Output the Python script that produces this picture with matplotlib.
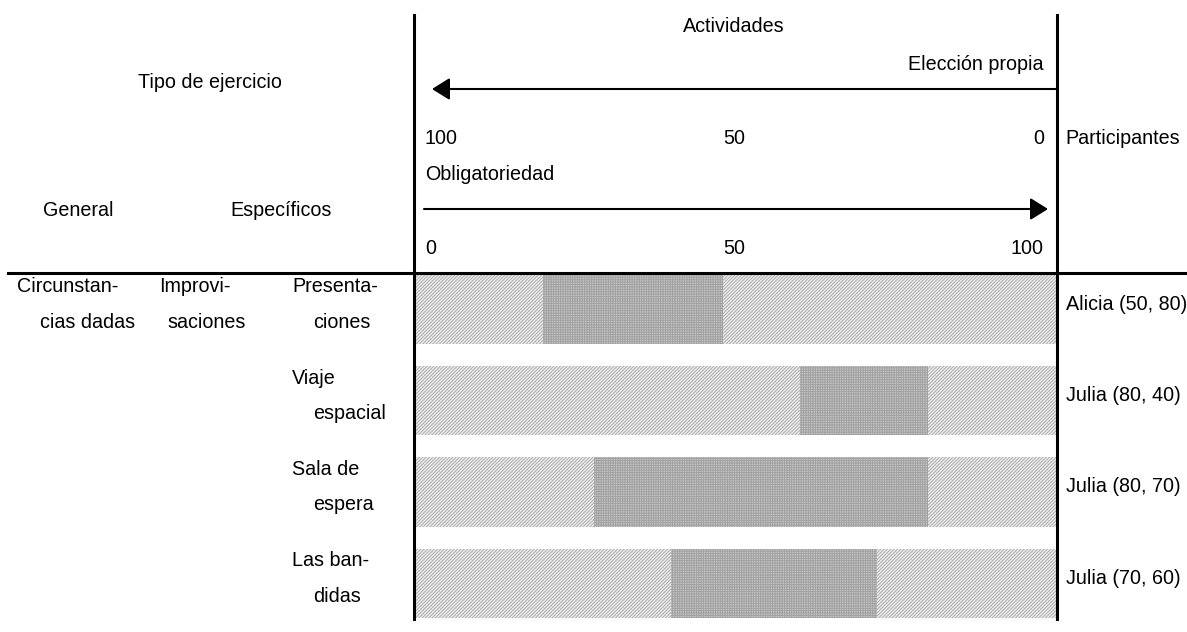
import matplotlib
matplotlib.use("Agg")
import matplotlib.pyplot as plt
import matplotlib.transforms as mtransforms
from matplotlib.lines import Line2D
from matplotlib.patches import FancyArrowPatch

# ---------------- data ----------------
general_lines = ["Circunstan-", "cias dadas"]
specific_lines = ["Improvi-", "saciones"]
activity_lines = [["Presenta-", "ciones"], ["Viaje", "espacial"],
                  ["Sala de", "espera"], ["Las ban-", "didas"]]
participants = ["Alicia (50, 80)", "Julia (80, 40)", "Julia (80, 70)", "Julia (70, 60)"]
dense_start = [20, 60, 28, 40]
dense_end = [48, 80, 80, 72]
top_ticks = ["100", "50", "0"]      # Elección propia
bottom_ticks = ["0", "50", "100"]   # Obligatoriedad

# ---------------- figure ----------------
W, H = 1187, 632
plt.rcParams['font.family'] = ['Liberation Sans', 'DejaVu Sans']
plt.rcParams['hatch.linewidth'] = 0.6
FS = 14.2
fig = plt.figure(figsize=(W / 100, H / 100), dpi=100)
fig.patch.set_facecolor('white')


def fx(px):
    return px / W


def fy(py):
    return 1 - py / H


def ftext(px, py, s, ha='left'):
    fig.text(fx(px), fy(py), s, ha=ha, va='center', fontsize=FS, color='black')


# bar axes: x 0..100 -> 415..1056 px, rows spaced 91.5 px, first centred at 309 px
row_px = 91.5
ax = fig.add_axes([fx(415), fy(309 + 3.5 * row_px), (1056 - 415) / W, 4 * row_px / H])
ax.set_xlim(0, 100)
ax.set_ylim(3.5, -0.5)
ax.axis('off')

n = len(participants)
rows = list(range(n))
bh = 0.755
ax.barh(rows, [100] * n, left=0, height=bh, facecolor='#ececec',
        edgecolor='#a4a4a4', linewidth=0, hatch='/' * 10)
widths = [e - s for s, e in zip(dense_start, dense_end)]
ax.barh(rows, widths, left=dense_start, height=bh, facecolor='#c4c4c4',
        edgecolor='#a0a0a0', linewidth=0, hatch='+' * 7)

# row labels (x in figure pixels, y in data rows)
blend = mtransforms.blended_transform_factory(fig.transFigure, ax.transData)
off1 = -22.5 / row_px
off2 = 13.0 / row_px
for i, (l1, l2) in enumerate(activity_lines):
    ax.text(fx(292), i + off1, l1, transform=blend, ha='left', va='center', fontsize=FS)
    ax.text(fx(313), i + off2, l2, transform=blend, ha='left', va='center', fontsize=FS)
    ax.text(fx(1066), i - 5 / row_px, participants[i], transform=blend,
            ha='left', va='center', fontsize=FS)
ax.text(fx(17), off1, general_lines[0], transform=blend, ha='left', va='center', fontsize=FS)
ax.text(fx(40), off2, general_lines[1], transform=blend, ha='left', va='center', fontsize=FS)
ax.text(fx(159), off1, specific_lines[0], transform=blend, ha='left', va='center', fontsize=FS)
ax.text(fx(167), off2, specific_lines[1], transform=blend, ha='left', va='center', fontsize=FS)

# ---------------- header ----------------
ftext(210, 83, "Tipo de ejercicio", ha='center')
ftext(78, 211, "General", ha='center')
ftext(281, 211, "Específicos", ha='center')
ftext(734, 27, "Actividades", ha='center')
ftext(1044, 65, "Elección propia", ha='right')
ftext(1065, 138, "Participantes")
ftext(425, 175, "Obligatoriedad")
for s, px, ha in zip(top_ticks, [425, 734, 1044], ['left', 'center', 'right']):
    ftext(px, 138, s, ha=ha)
for s, px, ha in zip(bottom_ticks, [425, 734, 1044], ['left', 'center', 'right']):
    ftext(px, 248, s, ha=ha)

# arrows
for (x0, x1, y) in [(1057, 432, 89), (424, 1048, 209)]:
    fig.add_artist(FancyArrowPatch((fx(x0), fy(y)), (fx(x1), fy(y)),
                                   transform=fig.transFigure,
                                   arrowstyle='-|>,head_length=0.4,head_width=0.25',
                                   mutation_scale=27, lw=1.5, color='black',
                                   shrinkA=0, shrinkB=0))

# frame lines
lw = 2.2
fig.add_artist(Line2D([fx(414), fx(414)], [fy(15), fy(619)], lw=lw, color='black'))
fig.add_artist(Line2D([fx(1057), fx(1057)], [fy(15), fy(619)], lw=lw, color='black'))
fig.add_artist(Line2D([fx(8), fx(1187)], [fy(273), fy(273)], lw=lw, color='black'))

fig.savefig("out.png", dpi=100, facecolor='white')
